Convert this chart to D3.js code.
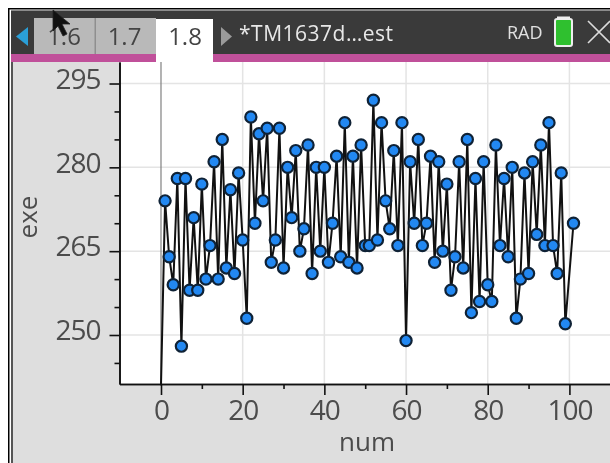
<!DOCTYPE html>
<html>
<head>
<meta charset="utf-8">
<script src="https://cdn.jsdelivr.net/npm/d3@7"></script>
<style>
html,body{margin:0;padding:0;background:#fff;overflow:hidden}
svg{display:block;filter:blur(0.4px)}
text{font-family:"Open Sans",sans-serif}
</style>
</head>
<body>
<svg id="c" width="610" height="463"></svg>
<script>
const nums = d3.range(1, 102);
const exe = [274,264,259,278,248,278,258,271,258,277,
  260,266,281,260,285,262,276,261,279,267,
  253,289,270,286,274,287,263,267,287,262,
  280,271,283,265,269,284,261,280,265,280,
  263,270,282,264,288,263,282,262,284,266,
  266,292,267,288,274,269,283,266,288,249,
  281,270,285,266,270,282,263,281,265,277,
  258,264,281,262,285,254,278,256,281,259,
  256,284,266,278,264,280,253,260,279,261,
  281,268,284,266,288,266,261,279,252,null,270];
const leadNum = 0, leadExe = 241;
const yMajor = [295,280,265,250];
const yMinor = [290,285,275,270,260,255,245];
const xMajor = [0,20,40,60,80,100];
const xMinor = [10,30,50,70,90];
const tabs = ["1.6","1.7","1.8"];
const docTitle = "*TM1637d…est";
const modeLabel = "RAD";
const xTitle = "num", yTitle = "exe";

const svg = d3.select("#c");
const L = 119.5, R = 610, T = 62, B = 384;
const x = d3.scaleLinear().domain([-10.16,109.94]).range([L,R]);
const y = d3.scaleLinear().domain([241.23,298.85]).range([B,T]);

// frame + panel
svg.append("rect").attr("x",8).attr("y",8).attr("width",602).attr("height",455).attr("fill","#000");
svg.append("rect").attr("x",9.5).attr("y",9.5).attr("width",601).attr("height",454).attr("fill","#fff");
svg.append("rect").attr("x",11).attr("y",10).attr("width",599).attr("height",453).attr("fill","#dedede");
svg.append("rect").attr("x",11).attr("y",62).attr("width",2).attr("height",401).attr("fill","#555");

// header
svg.append("rect").attr("x",11).attr("y",10.5).attr("width",599).attr("height",44).attr("fill","#3a3a3a");
svg.append("rect").attr("x",11).attr("y",54).attr("width",599).attr("height",8).attr("fill","#c0509a");
svg.append("rect").attr("x",34).attr("y",18).attr("width",122).attr("height",36).attr("fill","#b9b9b9");
svg.append("rect").attr("x",94.5).attr("y",18).attr("width",1.5).attr("height",36).attr("fill","#8f8f8f");
svg.append("rect").attr("x",156).attr("y",19).attr("width",57).attr("height",43).attr("fill","#fff");
svg.append("path").attr("d","M28,27L16,36.5L28,46Z").attr("fill","#2a9fd8");
svg.append("path").attr("d","M221,27L232,36.5L221,46Z").attr("fill","#9a9a9a");
svg.selectAll("text.tab").data(tabs).join("text").attr("class","tab")
  .attr("x",(d,i)=>[64,124.5,185][i]).attr("y",45).attr("text-anchor","middle")
  .attr("font-size",24).attr("fill","#444").text(d=>d);
svg.append("text").attr("x",239).attr("y",41).attr("font-size",21).attr("letter-spacing",0.5).attr("fill","#e8e8e8").text(docTitle);
svg.append("text").attr("x",507).attr("y",39).attr("font-size",18).attr("fill","#e0e0e0").text(modeLabel);
svg.append("rect").attr("x",555).attr("y",19).attr("width",17).attr("height",27).attr("rx",2).attr("fill","#2fc02f").attr("stroke","#eee").attr("stroke-width",2);
svg.append("rect").attr("x",557).attr("y",16.5).attr("width",13).attr("height",3).attr("fill","#eee");
svg.append("path").attr("d","M588,21L610,43M610,21L588,43").attr("stroke","#dcdcdc").attr("stroke-width",1.6).attr("fill","none");

// plot
svg.append("rect").attr("x",L).attr("y",T).attr("width",R-L).attr("height",B-T).attr("fill","#fff");
svg.append("g").selectAll("line").data(yMajor).join("line")
  .attr("x1",L).attr("x2",R).attr("y1",d=>y(d)).attr("y2",d=>y(d)).attr("stroke","#e4e4e4").attr("stroke-width",1.5);
svg.append("g").selectAll("line").data(xMajor.filter(d=>d!==0)).join("line")
  .attr("y1",T).attr("y2",B).attr("x1",d=>x(d)).attr("x2",d=>x(d)).attr("stroke","#e4e4e4").attr("stroke-width",1.5);
svg.append("line").attr("x1",x(0)).attr("x2",x(0)).attr("y1",T).attr("y2",B).attr("stroke","#808080").attr("stroke-width",1.2);

// axes
const styleAxis = g => { g.selectAll("line,path").attr("stroke","#111").attr("stroke-width",1.6); };
svg.append("g").attr("transform",`translate(${L},0)`)
  .call(d3.axisLeft(y).tickValues(yMinor).tickSize(5).tickFormat("").tickSizeOuter(0)).call(styleAxis);
const gy = svg.append("g").attr("transform",`translate(${L},0)`)
  .call(d3.axisLeft(y).tickValues(yMajor).tickSize(10).tickPadding(9).tickSizeOuter(0)).call(styleAxis);
gy.selectAll("text").attr("font-size",28).attr("fill","#4c4c4c").attr("dy","0.17em").attr("letter-spacing",-1)
  .style("font-family",'"Open Sans",sans-serif');
svg.append("g").attr("transform",`translate(0,${B})`)
  .call(d3.axisBottom(x).tickValues(xMinor).tickSize(5).tickFormat("").tickSizeOuter(0)).call(styleAxis);
const gx = svg.append("g").attr("transform",`translate(0,${B})`)
  .call(d3.axisBottom(x).tickValues(xMajor).tickSize(11).tickPadding(6).tickSizeOuter(0)).call(styleAxis);
gx.selectAll("text").attr("font-size",28).attr("fill","#4c4c4c").attr("dy","0.68em").attr("letter-spacing",-1)
  .style("font-family",'"Open Sans",sans-serif');
svg.append("text").attr("x",367).attr("y",451).attr("text-anchor","middle").attr("font-size",26).attr("fill","#4c4c4c").text(xTitle);
svg.append("text").attr("transform","translate(37,217) rotate(-90)").attr("text-anchor","middle").attr("font-size",26).attr("fill","#4c4c4c").text(yTitle);

// series
const pts = nums.map((n,i)=>({n,v:exe[i]})).filter(d=>d.v!==null);
const line = d3.line().x(d=>x(d.n)).y(d=>y(d.v));
svg.append("path").datum([{n:leadNum,v:leadExe},...pts]).attr("d",line).attr("fill","none").attr("stroke","#111").attr("stroke-width",2);
svg.append("g").selectAll("circle").data(pts).join("circle")
  .attr("cx",d=>x(d.n)).attr("cy",d=>y(d.v)).attr("r",5.6)
  .attr("fill","#2288f2").attr("stroke","#0f2236").attr("stroke-width",2.2);

// mouse pointer
svg.append("path").attr("d","M53,10L53,31L58,26L63,36L67,34L62,24L70,24Z").attr("fill","#111").attr("stroke","#222").attr("stroke-width",0.8);
</script>
</body>
</html>
